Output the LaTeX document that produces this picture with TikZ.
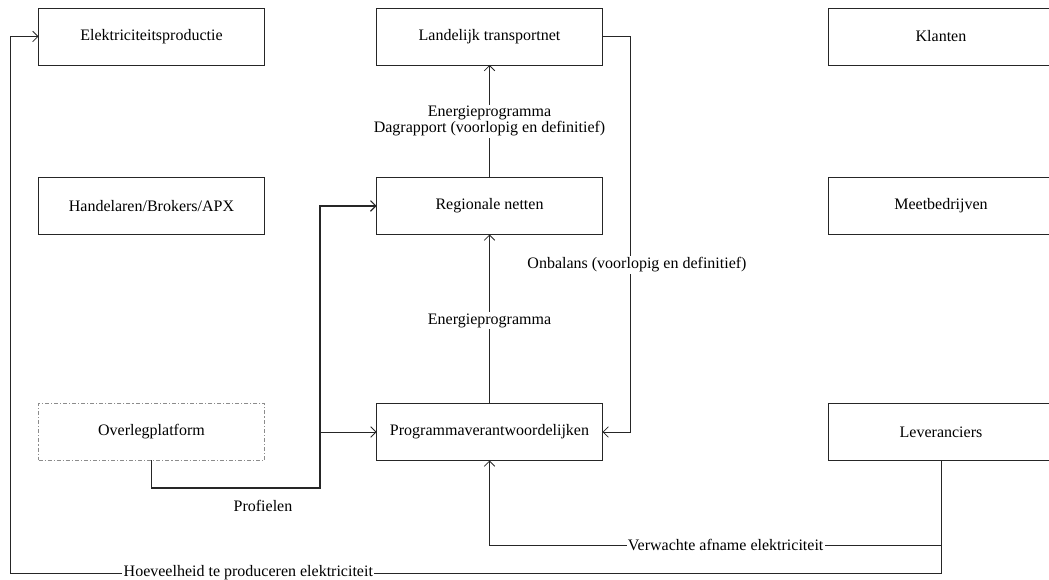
\documentclass[tikz,border=0pt]{standalone}
\usepackage{fontspec}
\setmainfont{Liberation Serif}
\usetikzlibrary{arrows.meta}
\begin{document}
\begin{tikzpicture}[x=0.75pt,y=-0.75pt,
  box/.style={draw=black!85, line width=0.6pt, minimum width=169.5pt, minimum height=42.75pt,
    inner sep=0pt, outer sep=0pt, font=\fontsize{12}{14}\selectfont, fill=white},
  dashbox/.style={box, draw=black!45, dash pattern=on 3pt off 1.5pt on 0.8pt off 1.5pt},
  link/.style={draw=black!85, line width=0.6pt},
  arr/.style={link, -{Straight Barb[length=4pt,width=8pt]}},
  lbl/.style={fill=white, inner sep=1pt, font=\fontsize{12}{10}\selectfont, align=center}]
\useasboundingbox (0,0) rectangle (1049,580);
\clip (0,0) rectangle (1049,580);

% actors
\node[box] (elek) at (151.5,36.5) {Elektriciteitsproductie};
\node[box] (land) at (489.5,36.5) {Landelijk transportnet};
\node[box] (klant) at (941,36.5) {Klanten};
\node[box] (hand) at (151.5,206) {Handelaren/Brokers/APX};
\node[box] (reg) at (489.5,206) {Regionale netten};
\node[box] (meet) at (941,206) {Meetbedrijven};
\node[dashbox] (over) at (151.5,432) {Overlegplatform};
\node[box] (prog) at (489.5,432) {Programmaverantwoordelijken};
\node[box] (lev) at (941,432) {Leveranciers};

% routing points
\coordinate (hvB) at (941,573);
\coordinate (hvA) at (10,573);
\coordinate (vwB) at (941,545);
\coordinate (vwA) at (489.5,545);
\coordinate (prJ) at (320,488);
\coordinate (prK) at (320,432);
\coordinate (onT) at (630,36.5);

% flows
\draw[arr] (lev.south) -- (hvB)
  -- node[lbl, pos=0.744] (hvl) {Hoeveelheid te produceren elektriciteit} (hvA)
  |- (elek.west);
\draw[arr] (lev.south) -- (vwB)
  -- node[lbl, pos=0.477] (vwl) {Verwachte afname elektriciteit} (vwA)
  -- (prog.south);
\draw[arr, line width=0.8pt] (over.south) |- (prJ) |- (reg.west);
\draw[arr] (prK) -- (prog.west);
\node[lbl] (prl) at (263,506) {Profielen};
\draw[arr] (land.east) -- (onT) |- (prog.east);
\node[lbl] (onl) at (637,265) {Onbalans (voorlopig en definitief)};
\draw[arr] (reg.north) -- node[lbl, pos=0.5] (dgl) {\lineskiplimit=-20pt\lineskip=0pt\relax Energieprogramma\\[0pt]Dagrapport (voorlopig en definitief)} (land.south);
\draw[arr] (prog.north) -- node[lbl, pos=0.49] (epl) {Energieprogramma} (reg.south);
\end{tikzpicture}
\end{document}
